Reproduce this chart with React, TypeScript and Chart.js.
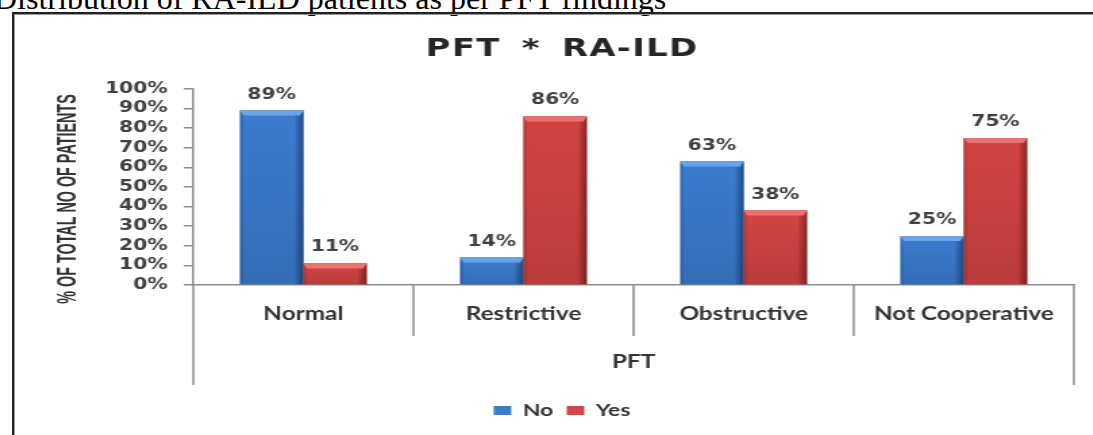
import React, { useEffect, useRef } from 'react';
import { Chart, registerables } from 'chart.js';

Chart.register(...registerables);

const caption = 'Distribution of RA-ILD patients as per PFT findings';
const chartTitle = 'PFT * RA-ILD';
const categories = ['Normal', 'Restrictive', 'Obstructive', 'Not Cooperative'];
const groupLabel = 'PFT';
const seriesNames = ['No', 'Yes'];
const noValues = [89, 14, 63, 25];
const yesValues = [11, 86, 38, 75];
const yAxisTitle = '% OF TOTAL NO OF PATIENTS';
const yMin = 0;
const yMax = 100;
const yStep = 10;

const palettes = [
  { main: '#3B7CCF', edge: '#2D66B3', dark: '#214C88', light: '#6AA3E6' },
  { main: '#D34444', edge: '#B93535', dark: '#8C2424', light: '#EE7070' },
];

const W = 810;
const H = 420;
const STRETCH = 1.35;

const bevelPlugin = {
  id: 'bevel',
  afterDatasetsDraw(chart: any) {
    const ctx = chart.ctx;
    ctx.save();
    chart.data.datasets.forEach((ds: any, di: number) => {
      const meta = chart.getDatasetMeta(di);
      const pal = palettes[di];
      meta.data.forEach((bar: any, i: number) => {
        const { x, y, base, width } = bar.getProps(['x', 'y', 'base', 'width'], true);
        const l = x - width / 2;
        const r = x + width / 2;
        const g = ctx.createLinearGradient(l, 0, r, 0);
        g.addColorStop(0, pal.edge);
        g.addColorStop(0.07, pal.main);
        g.addColorStop(0.85, pal.main);
        g.addColorStop(1, pal.dark);
        ctx.fillStyle = g;
        ctx.fillRect(l, y, width, base - y);
        const v = ctx.createLinearGradient(0, y, 0, base);
        v.addColorStop(0, 'rgba(0,0,0,0)');
        v.addColorStop(1, 'rgba(0,0,0,0.12)');
        ctx.fillStyle = v;
        ctx.fillRect(l, y, width, base - y);
        const bx = 2.5;
        const by = 5;
        ctx.beginPath();
        ctx.moveTo(l, y);
        ctx.lineTo(r, y);
        ctx.lineTo(r - bx, y + by);
        ctx.lineTo(l + bx, y + by);
        ctx.closePath();
        ctx.fillStyle = pal.light;
        ctx.fill();
        const val = ds.data[i];
        ctx.fillStyle = '#404040';
        ctx.font = 'bold 15px "DejaVu Sans"';
        ctx.textAlign = 'center';
        ctx.textBaseline = 'alphabetic';
        ctx.fillText(val + '%', x, y - 12);
      });
    });
    ctx.restore();
  },
};

const axisPlugin = {
  id: 'multiAxis',
  afterDraw(chart: any) {
    const ctx = chart.ctx;
    const area = chart.chartArea;
    const xs = chart.scales.x;
    const n = categories.length;
    const cw = (area.right - area.left) / n;
    ctx.save();
    ctx.strokeStyle = '#8c8c8c';
    ctx.lineWidth = 1.5;
    for (let i = 0; i <= n; i++) {
      const bx = i < n ? xs.getPixelForValue(i) - cw / 2 : xs.getPixelForValue(n - 1) + cw / 2;
      const bottom = i === 0 || i === n ? area.bottom + 100 : area.bottom + 51;
      ctx.beginPath();
      ctx.moveTo(bx, area.bottom);
      ctx.lineTo(bx, bottom);
      ctx.stroke();
    }
    ctx.fillStyle = '#333';
    ctx.font = 'bold 18px Lato';
    ctx.textAlign = 'center';
    ctx.textBaseline = 'middle';
    categories.forEach((c, i) => {
      ctx.fillText(c, xs.getPixelForValue(i), area.bottom + 29);
    });
    ctx.fillText(groupLabel, (area.left + area.right) / 2, area.bottom + 77);

    ctx.save();
    ctx.translate(39, (area.top + area.bottom) / 2 + 12);
    ctx.rotate(-Math.PI / 2);
    ctx.scale(0.7, 1);
    ctx.font = 'bold 20.5px "Liberation Sans"';
    ctx.fillStyle = '#333';
    ctx.textAlign = 'center';
    ctx.textBaseline = 'middle';
    ctx.fillText(yAxisTitle, 0, 0);
    ctx.restore();

    ctx.save();
    ctx.font = 'bold 25px "DejaVu Sans"';
    ctx.fillStyle = '#262626';
    ctx.textAlign = 'center';
    ctx.textBaseline = 'middle';
    (ctx as any).letterSpacing = '1px';
    (ctx as any).wordSpacing = '6px';
    ctx.fillText(chartTitle, chart.width / 2, 34);
    ctx.restore();
    ctx.restore();
  },
};

export default function App() {
  const ref = useRef<HTMLCanvasElement>(null);

  useEffect(() => {
    const chart = new Chart(ref.current as HTMLCanvasElement, {
      type: 'bar',
      data: {
        labels: categories,
        datasets: [
          { label: seriesNames[0], data: noValues, backgroundColor: palettes[0].main, borderWidth: 0 },
          { label: seriesNames[1], data: yesValues, backgroundColor: palettes[1].main, borderWidth: 0 },
        ],
      },
      options: {
        responsive: false,
        animation: false,
        devicePixelRatio: 1,
        layout: { padding: { left: 26, right: 26, top: 74, bottom: 6 } },
        datasets: { bar: { barPercentage: 1, categoryPercentage: 0.575 } },
        plugins: {
          title: { display: false },
          tooltip: { enabled: false },
          legend: {
            position: 'bottom',
            labels: {
              boxWidth: 13,
              boxHeight: 9,
              padding: 10,
              color: '#333',
              font: { family: 'Lato', weight: 'bold', size: 17 },
            },
          },
        },
        scales: {
          x: {
            grid: { display: false },
            border: { display: true, color: '#8c8c8c', width: 1.5 },
            ticks: { display: false },
            afterFit(s: any) {
              s.height = 107;
            },
          },
          y: {
            min: yMin,
            max: yMax,
            ticks: {
              stepSize: yStep,
              autoSkip: false,
              callback: (v: any) => v + '%',
              font: { family: 'DejaVu Sans', weight: 'bold', size: 15 },
              color: '#404040',
              padding: 12,
            },
            grid: { drawOnChartArea: false, drawTicks: true, tickLength: 7, color: '#8c8c8c', lineWidth: 1.5 },
            border: { display: true, color: '#8c8c8c', width: 1.5 },
            afterFit(s: any) {
              s.width = 106;
            },
          },
        },
      } as any,
      plugins: [bevelPlugin, axisPlugin],
    });
    return () => chart.destroy();
  }, []);

  return (
    <div
      style={{
        position: 'fixed',
        left: 0,
        top: 0,
        width: 1093,
        height: 435,
        overflow: 'hidden',
        background: '#fff',
      }}
    >
      <div
        style={{
          position: 'absolute',
          left: -6,
          top: -18,
          fontFamily: '"Liberation Serif", "Times New Roman", serif',
          fontSize: 32,
          lineHeight: '32px',
          whiteSpace: 'nowrap',
          color: '#000',
        }}
      >
        {caption}
      </div>
      <div
        style={{
          position: 'absolute',
          left: 12,
          top: 12,
          width: 1200,
          height: 600,
          borderLeft: '2px solid #222',
          borderTop: '2px solid #222',
          boxShadow: 'inset 1px 1px 0 #9a9a9a',
        }}
      />
      <canvas
        ref={ref}
        width={W}
        height={H}
        style={{ position: 'absolute', left: 15, top: 15, width: W * STRETCH, height: H }}
      />
    </div>
  );
}
